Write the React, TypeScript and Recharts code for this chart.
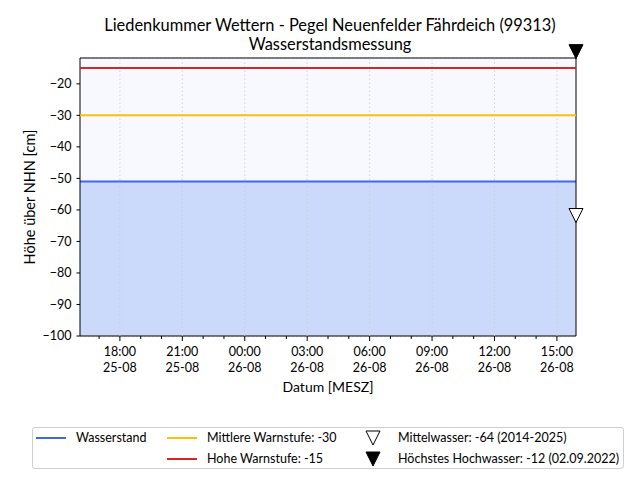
import React from "react";
import {
  ComposedChart,
  Area,
  XAxis,
  YAxis,
  CartesianGrid,
  ReferenceLine,
  ReferenceDot,
  ReferenceArea,
} from "recharts";

// hours since 25-08 00:00 (MESZ)
const hours = [
  16.083, 17, 18, 19, 20, 21, 22, 23, 24, 25, 26, 27, 28, 29, 30, 31, 32, 33,
  34, 35, 36, 37, 38, 39, 39.917,
];
const levels = [
  -51, -51, -51, -51, -51, -51, -51, -51, -51, -51, -51, -51, -51, -51, -51,
  -51, -51, -51, -51, -51, -51, -51, -51, -51, -51,
];
const hourTicks = [
  17, 18, 19, 20, 21, 22, 23, 24, 25, 26, 27, 28, 29, 30, 31, 32, 33, 34, 35,
  36, 37, 38, 39,
];
const majorTicks = [18, 21, 24, 27, 30, 33, 36, 39];
const yTicks = [-20, -30, -40, -50, -60, -70, -80, -90, -100];
const mittlereWarnstufe = -30;
const hoheWarnstufe = -15;
const mittelwasser = -64;
const hoechstesHochwasser = -12;
const yDomain = [-100, -11.8];

const data = hours.map((t, i) => ({ t, level: levels[i] }));

const FONT = "Lato, 'Open Sans', sans-serif";

const pad = (n: number) => (n < 10 ? "0" + n : "" + n);

const XTick = (props: any) => {
  const { x, y, payload } = props;
  const v = payload.value as number;
  const major = majorTicks.includes(v);
  const hh = v % 24;
  const day = v >= 24 ? "26-08" : "25-08";
  return (
    <g>
      <line x1={x} x2={x} y1={y} y2={y + (major ? 5 : 3)} stroke="#000" strokeWidth={1} />
      {major && (
        <text x={x} y={y + 20} textAnchor="middle" fontSize={12.5} fontFamily={FONT} fill="#000">
          {pad(hh)}:00
        </text>
      )}
      {major && (
        <text x={x} y={y + 35.5} textAnchor="middle" fontSize={12.5} fontFamily={FONT} fill="#000">
          {day}
        </text>
      )}
    </g>
  );
};

const HollowTri = (props: any) => {
  const { cx, cy } = props;
  return (
    <polygon
      points={`${cx - 7},${cy - 14} ${cx + 7},${cy - 14} ${cx},${cy}`}
      fill="#fff"
      stroke="#000"
      strokeWidth={1}
    />
  );
};
const FilledTri = (props: any) => {
  const { cx, cy } = props;
  return (
    <polygon
      points={`${cx - 7},${cy - 14} ${cx + 7},${cy - 14} ${cx},${cy}`}
      fill="#000"
      stroke="#000"
      strokeWidth={1}
    />
  );
};

const legendText: React.CSSProperties = {
  position: "absolute",
  fontSize: 12.5,
  fontFamily: FONT,
  color: "#000",
  lineHeight: "16px",
  whiteSpace: "nowrap",
};

export default function App() {
  const last = hours[hours.length - 1];
  return (
    <div
      style={{
        position: "fixed",
        left: 0,
        top: 0,
        width: 640,
        height: 480,
        background: "#fff",
        fontFamily: FONT,
      }}
    >
      <svg width={640} height={60} style={{ position: "absolute", left: 0, top: 0 }}>
        <text x={330} y={30.5} textAnchor="middle" fontSize={16.4} fontFamily={FONT} fill="#000">
          Liedenkummer Wettern - Pegel Neuenfelder Fährdeich (99313)
        </text>
        <text x={330} y={49.5} textAnchor="middle" fontSize={16.4} fontFamily={FONT} fill="#000">
          Wasserstandsmessung
        </text>
      </svg>
      <div style={{ position: "absolute", left: 0, top: 0 }}>
        <ComposedChart
          width={640}
          height={480}
          data={data}
          margin={{ top: 58, right: 64, bottom: 0, left: 0 }}
        >
          <ReferenceArea
            x1={hours[0]}
            x2={last}
            y1={yDomain[0]}
            y2={yDomain[1]}
            fill="#f8f8ff"
            fillOpacity={1}
            stroke="none"
          />
          <CartesianGrid
            vertical={false}
            stroke="#cccccc"
            strokeDasharray="1.5 2.5"
            strokeWidth={0.8}
          />
          {majorTicks.map((t) => (
            <ReferenceLine
              key={t}
              x={t}
              stroke="#cccccc"
              strokeDasharray="1.5 2.5"
              strokeWidth={0.8}
            />
          ))}
          <XAxis
            dataKey="t"
            type="number"
            domain={[hours[0], last]}
            ticks={hourTicks}
            tick={<XTick />}
            tickLine={false}
            axisLine={false}
            tickSize={0}
            tickMargin={0}
            height={144}
            interval={0}
            allowDataOverflow
            label={{
              value: "Datum [MESZ]",
              position: "insideTop",
              offset: 46,
              fontSize: 14,
              fontFamily: FONT,
              fill: "#000",
            }}
          />
          <YAxis
            type="number"
            domain={yDomain}
            ticks={yTicks}
            allowDataOverflow
            width={80}
            axisLine={false}
            tickSize={3.5}
            tickMargin={5}
            tickLine={{ stroke: "#000" }}
            tick={{ fontSize: 12.5, fontFamily: FONT, fill: "#000" }}
            tickFormatter={(v: number) => "\u2212" + Math.abs(v)}
            label={{
              value: "Höhe über NHN [cm]",
              angle: -90,
              position: "insideLeft",
              offset: 30,
              fontSize: 14.5,
              fontFamily: FONT,
              fill: "#000",
              style: { textAnchor: "middle" },
            }}
          />
          <Area
            type="linear"
            dataKey="level"
            baseValue={-100}
            stroke="#4169e1"
            strokeWidth={2}
            fill="#6495ed"
            fillOpacity={0.3}
            isAnimationActive={false}
            dot={false}
            activeDot={false}
          />
          <ReferenceLine y={mittlereWarnstufe} stroke="#ffc000" strokeWidth={2} />
          <ReferenceLine y={hoheWarnstufe} stroke="#d62728" strokeWidth={2} />
          <ReferenceArea
            x1={hours[0]}
            x2={last}
            y1={yDomain[0]}
            y2={yDomain[1]}
            fill="none"
            stroke="#000"
            strokeWidth={1}
          />
          <ReferenceDot
            x={last}
            y={mittelwasser}
            shape={<HollowTri />}
            ifOverflow="visible"
          />
          <ReferenceDot
            x={last}
            y={hoechstesHochwasser}
            shape={<FilledTri />}
            ifOverflow="visible"
          />
        </ComposedChart>
      </div>
      <div
        style={{
          position: "absolute",
          left: 32,
          top: 427,
          width: 592,
          height: 42,
          border: "1px solid #d0d0d0",
          borderRadius: 3,
          background: "#fff",
          boxSizing: "border-box",
        }}
      >
        <svg width={592} height={42} style={{ position: "absolute", left: 0, top: 0 }}>
          <line x1={3} x2={33} y1={10} y2={10} stroke="#4169e1" strokeWidth={2} />
          <line x1={134} x2={164} y1={10} y2={10} stroke="#ffc000" strokeWidth={2} />
          <line x1={134} x2={164} y1={31} y2={31} stroke="#d62728" strokeWidth={2} />
          <polygon points="333,3 347,3 340,17" fill="#fff" stroke="#000" strokeWidth={1} />
          <polygon points="333,24 347,24 340,38" fill="#000" stroke="#000" strokeWidth={1} />
        </svg>
        <div style={{ ...legendText, left: 43, top: 2 }}>Wasserstand</div>
        <div style={{ ...legendText, left: 174, top: 2 }}>Mittlere Warnstufe: -30</div>
        <div style={{ ...legendText, left: 174, top: 23 }}>Hohe Warnstufe: -15</div>
        <div style={{ ...legendText, left: 365, top: 2 }}>Mittelwasser: -64 (2014-2025)</div>
        <div style={{ ...legendText, left: 365, top: 23 }}>
          Höchstes Hochwasser: -12 (02.09.2022)
        </div>
      </div>
    </div>
  );
}
